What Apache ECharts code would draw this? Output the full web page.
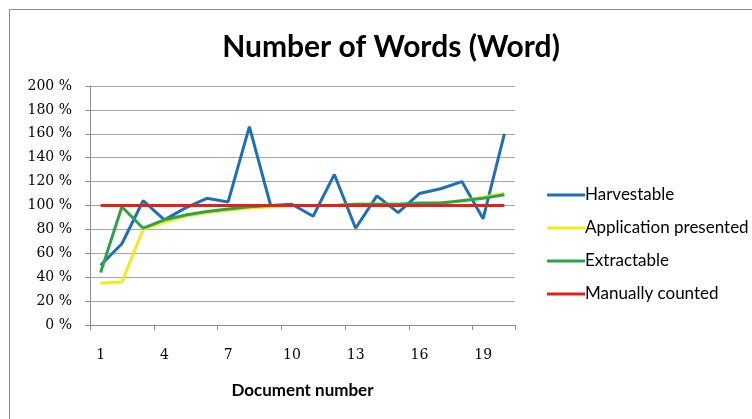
<!DOCTYPE html>
<html>
<head>
<meta charset="utf-8">
<script src="https://cdn.jsdelivr.net/npm/echarts@6/dist/echarts.min.js"></script>
<style>
  html, body { margin: 0; padding: 0; background: #fff; }
  #frame { position: absolute; left: 9px; top: 9px; width: 800px; height: 500px; border: 1px solid #8c8c8c; box-sizing: border-box; }
  #chart { position: absolute; left: 0; top: 0; width: 752px; height: 419px; }
</style>
</head>
<body>
<div id="frame"></div>
<div id="chart"></div>
<script>
// Document numbers along the x axis
const documents = ['1','2','3','4','5','6','7','8','9','10','11','12','13','14','15','16','17','18','19','20'];

// Word counts as a percentage of the manual count
const harvestable = [50, 68, 104, 88, 98, 106, 103, 166, 100, 101, 91, 126, 81, 108, 94, 110, 114, 120, 89, 160];
const applicationPresented = [35, 36, 80, 86, 91, 94, 96, 98, 99, 100, 100, 100, 101, 101, 101, 101, 102, 104, 107, 110];
const extractable = [44, 99, 81, 88, 92, 95, 97, 99, 100, 100, 100, 100, 101, 101, 101, 102, 102, 104, 106, 109];
const manuallyCounted = [100, 100, 100, 100, 100, 100, 100, 100, 100, 100, 100, 100, 100, 100, 100, 100, 100, 100, 100, 100];

const seriesNames = ['Harvestable', 'Application presented', 'Extractable', 'Manually counted'];
const seriesColors = ['#1f6fb5', '#f2ea1e', '#2ba24c', '#e3201c'];
const seriesValues = [harvestable, applicationPresented, extractable, manuallyCounted];

const chart = echarts.init(document.getElementById('chart'));

chart.setOption({
  animation: false,
  backgroundColor: 'transparent',
  title: {
    text: 'Number of Words (Word)',
    left: 386,
    textAlign: 'center',
    top: 27,
    textStyle: { fontFamily: 'Lato', fontWeight: 'bold', fontSize: 30, color: '#000' }
  },
  legend: {
    orient: 'vertical',
    left: 542,
    top: 180,
    itemWidth: 38,
    itemHeight: 3,
    itemGap: 13,
    icon: 'rect',
    data: seriesNames,
    textStyle: { fontFamily: 'Lato', fontSize: 17, color: '#000', lineHeight: 20, padding: [0, 0, 0, -5] }
  },
  grid: { left: 90, right: 237, top: 86, bottom: 94, containLabel: false },
  xAxis: {
    type: 'category',
    data: documents,
    boundaryGap: true,
    name: 'Document number',
    nameLocation: 'middle',
    nameGap: 57,
    nameTextStyle: { fontFamily: 'Lato', fontWeight: 'bold', fontSize: 17, color: '#000' },
    axisLine: { lineStyle: { color: '#8c8c8c', width: 1 } },
    axisTick: { show: true, interval: 2, length: 5, lineStyle: { color: '#8c8c8c' } },
    axisLabel: { interval: 2, margin: 23, fontFamily: 'DejaVu Serif', fontSize: 14, color: '#000' },
    splitLine: { show: false }
  },
  yAxis: {
    type: 'value',
    min: 0,
    max: 200,
    interval: 20,
    axisLine: { show: true, lineStyle: { color: '#8c8c8c', width: 1 } },
    axisTick: { show: true, length: 5, lineStyle: { color: '#8c8c8c' } },
    axisLabel: { formatter: '{value} %', margin: 18, fontFamily: 'DejaVu Serif', fontSize: 14, color: '#000' },
    splitLine: { show: true, lineStyle: { color: '#a6a6a6', width: 1 } }
  },
  series: seriesNames.map((name, i) => ({
    name: name,
    type: 'line',
    data: seriesValues[i],
    showSymbol: false,
    symbol: 'none',
    color: seriesColors[i],
    lineStyle: { width: 3, color: seriesColors[i] }
  }))
});
</script>
</body>
</html>
